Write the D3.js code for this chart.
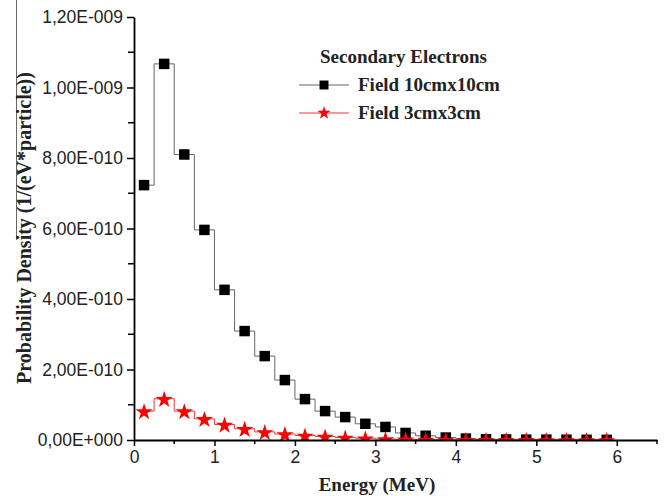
<!DOCTYPE html>
<html>
<head>
<meta charset="utf-8">
<script src="https://cdn.jsdelivr.net/npm/d3@7"></script>
<style>
  body { margin: 0; background: #fff; }
  svg { display: block; }
</style>
</head>
<body>
<svg id="chart" width="669" height="496"></svg>
<script>
// bin centres (MeV), 0.25 MeV bins
const energy = [0.125, 0.375, 0.625, 0.875, 1.125, 1.375, 1.625, 1.875, 2.125, 2.375, 2.625, 2.875,
  3.125, 3.375, 3.625, 3.875, 4.125, 4.375, 4.625, 4.875, 5.125, 5.375, 5.625, 5.875];

const field10 = [7.23e-10, 1.067e-9, 8.10e-10, 5.96e-10, 4.26e-10, 3.09e-10, 2.38e-10, 1.70e-10,
  1.16e-10, 8.2e-11, 6.5e-11, 4.6e-11, 3.7e-11, 2.0e-11, 1.2e-11, 7e-12, 4e-12, 2e-12,
  1.5e-12, 1e-12, 1e-12, 0.8e-12, 0.6e-12, 0.5e-12];

const field3 = [8.2e-11, 1.17e-10, 8.2e-11, 6.0e-11, 4.4e-11, 3.2e-11, 2.3e-11, 1.7e-11,
  1.3e-11, 1.0e-11, 7e-12, 5e-12, 3e-12, 2e-12, 1.5e-12, 1e-12, 0.8e-12, 0.6e-12,
  0.5e-12, 0.4e-12, 0.3e-12, 0.3e-12, 0.2e-12, 0.2e-12];

const yTicks = [0, 2e-10, 4e-10, 6e-10, 8e-10, 1e-9, 1.2e-9];
const xTicks = [0, 1, 2, 3, 4, 5, 6];

const svg = d3.select('#chart');

const x = d3.scaleLinear().domain([0, 6.5]).range([134, 657]);
const y = d3.scaleLinear().domain([0, 1.2e-9]).range([440, 17]);

// format like 1,20E-009
function sciFmt(v) {
  if (v === 0) return '0,00E+000';
  const e = Math.floor(Math.log10(Math.abs(v)) + 1e-9);
  const m = v / Math.pow(10, e);
  const sign = e < 0 ? '-' : '+';
  return m.toFixed(2).replace('.', ',') + 'E' + sign + String(Math.abs(e)).padStart(3, '0');
}

// scan artefact line on the left
svg.append('line')
  .attr('x1', 16.5).attr('x2', 16.5).attr('y1', 0).attr('y2', 240)
  .attr('stroke', '#666').attr('stroke-width', 1);

svg.append('defs').append('clipPath').attr('id', 'plot-clip')
  .append('rect').attr('x', 134).attr('y', 0).attr('width', 530).attr('height', 440);

const plot = svg.append('g').attr('clip-path', 'url(#plot-clip)');

const line = d3.line()
  .x((d, i) => x(energy[i]))
  .y(d => y(d))
  .curve(d3.curveStep);

plot.append('path')
  .datum(field10)
  .attr('d', line)
  .attr('fill', 'none')
  .attr('stroke', '#666')
  .attr('stroke-width', 1);

plot.append('path')
  .datum(field3)
  .attr('d', line)
  .attr('fill', 'none')
  .attr('stroke', '#f33')
  .attr('stroke-width', 1);

const square = d3.symbol().type(d3.symbolSquare).size(110);
const star = d3.symbol().type(d3.symbolStar).size(90);

plot.selectAll('.sq')
  .data(field10)
  .enter()
  .append('path')
  .attr('class', 'sq')
  .attr('d', square)
  .attr('transform', (d, i) => `translate(${x(energy[i])},${y(d)})`)
  .attr('fill', '#000');

plot.selectAll('.st')
  .data(field3)
  .enter()
  .append('path')
  .attr('class', 'st')
  .attr('d', star)
  .attr('transform', (d, i) => `translate(${x(energy[i])},${y(d) + 1})`)
  .attr('fill', '#f00');

// axes
const tickFont = "'Liberation Sans', Arial, sans-serif";

const xAxis = svg.append('g')
  .attr('transform', 'translate(0,440)')
  .call(d3.axisBottom(x).tickValues(xTicks).tickFormat(d3.format('d')).tickSize(6).tickSizeOuter(0).tickPadding(5));
xAxis.append('g').selectAll('line')
  .data(d3.range(0.5, 6.6, 1))
  .enter().append('line')
  .attr('x1', d => x(d)).attr('x2', d => x(d))
  .attr('y1', 0).attr('y2', 4)
  .attr('stroke', '#000').attr('stroke-width', 1.5);

const yAxis = svg.append('g')
  .attr('transform', 'translate(134,0)')
  .call(d3.axisLeft(y).tickValues(yTicks).tickFormat(sciFmt).tickSize(7).tickSizeOuter(0).tickPadding(4));
yAxis.append('g').selectAll('line')
  .data(d3.range(1e-10, 1.2e-9, 2e-10))
  .enter().append('line')
  .attr('x1', -6).attr('x2', 0)
  .attr('y1', d => y(d)).attr('y2', d => y(d))
  .attr('stroke', '#000').attr('stroke-width', 1.5);

[xAxis, yAxis].forEach(a => {
  a.select('.domain').attr('stroke-width', 1.8);
  a.selectAll('.tick line').attr('stroke-width', 1.5);
  a.selectAll('text')
    .attr('font-family', tickFont)
    .attr('font-size', '17.5px')
    .attr('fill', '#222');
});

// axis titles
const serif = "'Liberation Serif', 'Times New Roman', serif";

svg.append('text')
  .attr('x', 377).attr('y', 491)
  .attr('text-anchor', 'middle')
  .attr('font-family', serif).attr('font-weight', 'bold').attr('font-size', '19px')
  .attr('fill', '#222')
  .text('Energy (MeV)');

svg.append('text')
  .attr('transform', 'translate(31,228) rotate(-90)')
  .attr('text-anchor', 'middle')
  .attr('font-family', serif).attr('font-weight', 'bold').attr('font-size', '20px')
  .attr('fill', '#222')
  .text('Probability Density (1/(eV*particle))');

// legend
const legend = svg.append('g').attr('font-family', serif).attr('font-weight', 'bold')
  .attr('font-size', '19px').attr('fill', '#222');

legend.append('text')
  .attr('x', 320).attr('y', 63)
  .text('Secondary Electrons');

const legendSquare = d3.symbol().type(d3.symbolSquare).size(80);
const legendStar = d3.symbol().type(d3.symbolStar).size(55);

const legendItems = [
  { label: 'Field 10cmx10cm', stroke: '#666', fill: '#000', sym: legendSquare, y: 85 },
  { label: 'Field 3cmx3cm', stroke: '#f33', fill: '#f00', sym: legendStar, y: 113 }
];

legendItems.forEach(it => {
  legend.append('line')
    .attr('x1', 299).attr('x2', 349).attr('y1', it.y).attr('y2', it.y)
    .attr('stroke', it.stroke).attr('stroke-width', 1);
  legend.append('path')
    .attr('d', it.sym)
    .attr('transform', `translate(324,${it.y})`)
    .attr('fill', it.fill);
  legend.append('text')
    .attr('x', 358).attr('y', it.y + 6)
    .text(it.label);
});
</script>
</body>
</html>
